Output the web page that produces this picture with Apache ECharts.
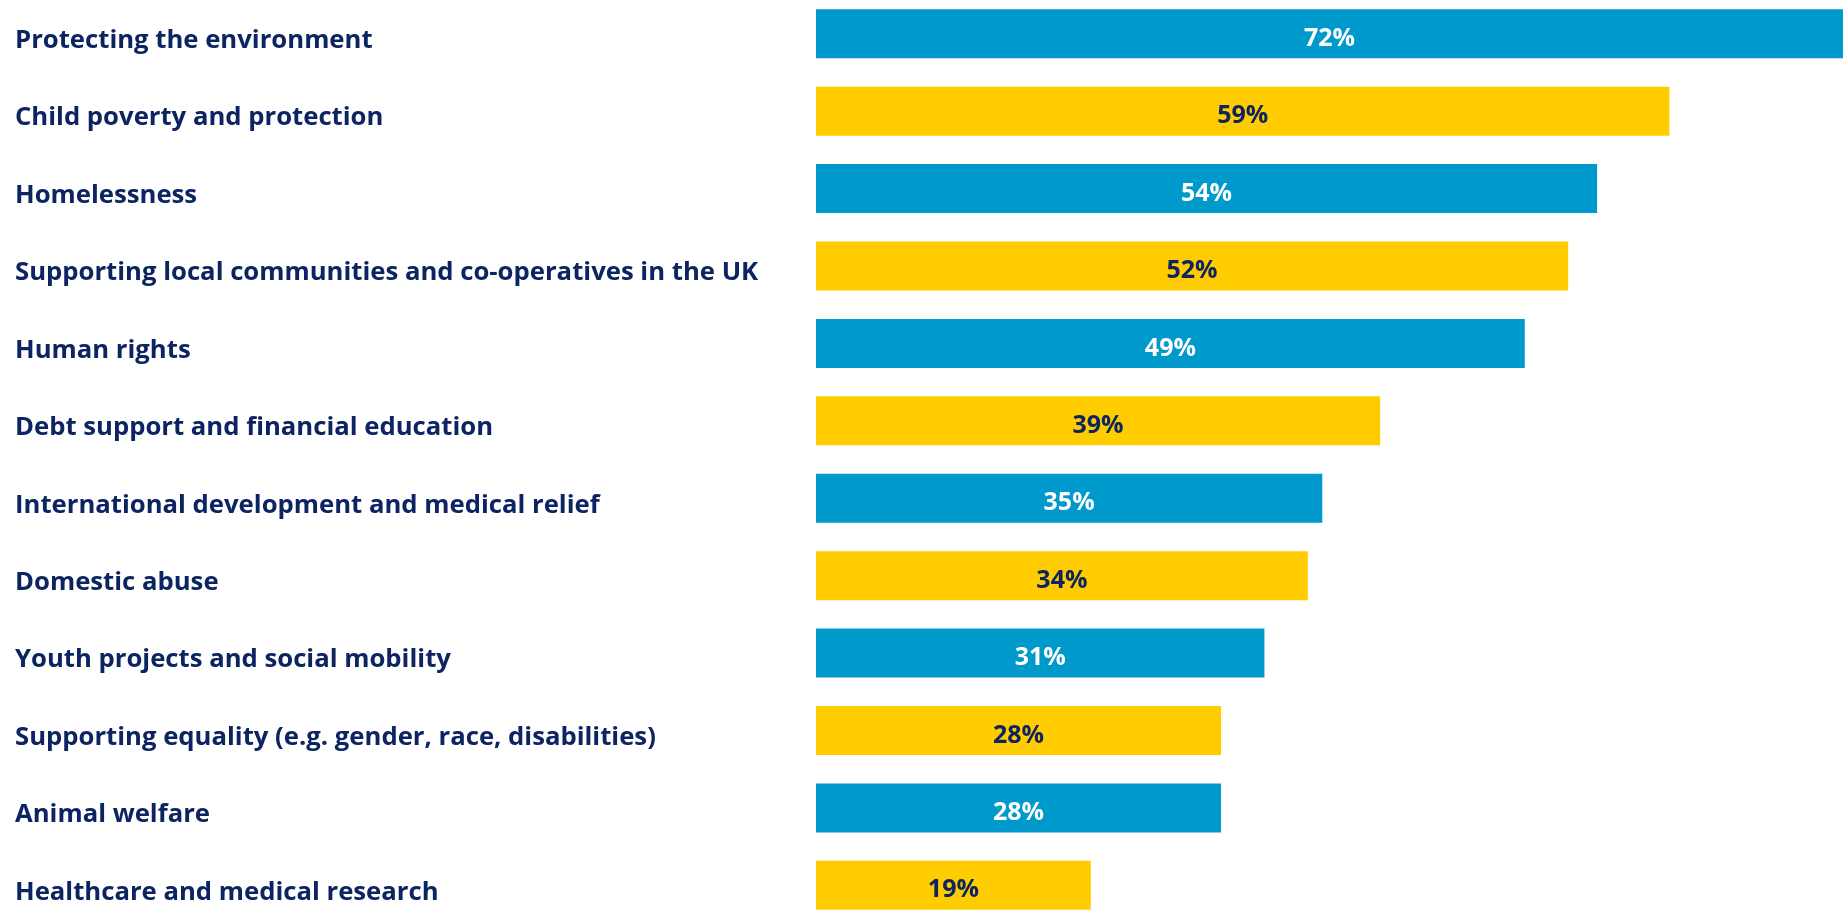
<!DOCTYPE html>
<html>
<head>
<meta charset="utf-8">
<script src="https://cdn.jsdelivr.net/npm/echarts@6/dist/echarts.min.js"></script>
<style>
html,body{margin:0;padding:0;background:#fff;}
#chart{width:1843px;height:911px;}
</style>
</head>
<body>
<div id="chart"></div>
<script>
const categories = [
  "Protecting the environment",
  "Child poverty and protection",
  "Homelessness",
  "Supporting local communities and co-operatives in the UK",
  "Human rights",
  "Debt support and financial education",
  "International development and medical relief",
  "Domestic abuse",
  "Youth projects and social mobility",
  "Supporting equality (e.g. gender, race, disabilities)",
  "Animal welfare",
  "Healthcare and medical research"
];
const values = [72, 59, 54, 52, 49, 39, 35, 34, 31, 28, 28, 19];

const BLUE = '#0099cc';
const YELLOW = '#ffcc00';
const NAVY = '#0c2461';

const chart = echarts.init(document.getElementById('chart'), null, {renderer: 'canvas'});
chart.setOption({
  animation: false,
  backgroundColor: '#ffffff',
  grid: {left: 816, right: 0, top: -5, bottom: -13, containLabel: false, outerBoundsMode: 'none'},
  xAxis: {type: 'value', min: 0, max: 71, show: false},
  yAxis: {
    type: 'category',
    data: categories,
    inverse: true,
    axisLine: {show: false},
    axisTick: {show: false},
    splitLine: {show: false},
    axisLabel: {
      align: 'left',
      verticalAlign: 'top',
      lineHeight: 14,
      margin: 801,
      color: NAVY,
      fontFamily: 'Open Sans',
      fontWeight: 'bold',
      fontSize: 25.7
    }
  },
  series: [{
    type: 'bar',
    barWidth: 49,
    data: values.map((v, i) => ({
      value: v,
      itemStyle: {color: i % 2 === 0 ? BLUE : YELLOW},
      label: {color: i % 2 === 0 ? '#ffffff' : NAVY}
    })),
    label: {
      show: true,
      position: 'inside',
      offset: [0, 5],
      formatter: p => p.value + '%',
      fontFamily: 'Open Sans',
      fontWeight: 'bold',
      fontSize: 25
    }
  }]
});
</script>
</body>
</html>
